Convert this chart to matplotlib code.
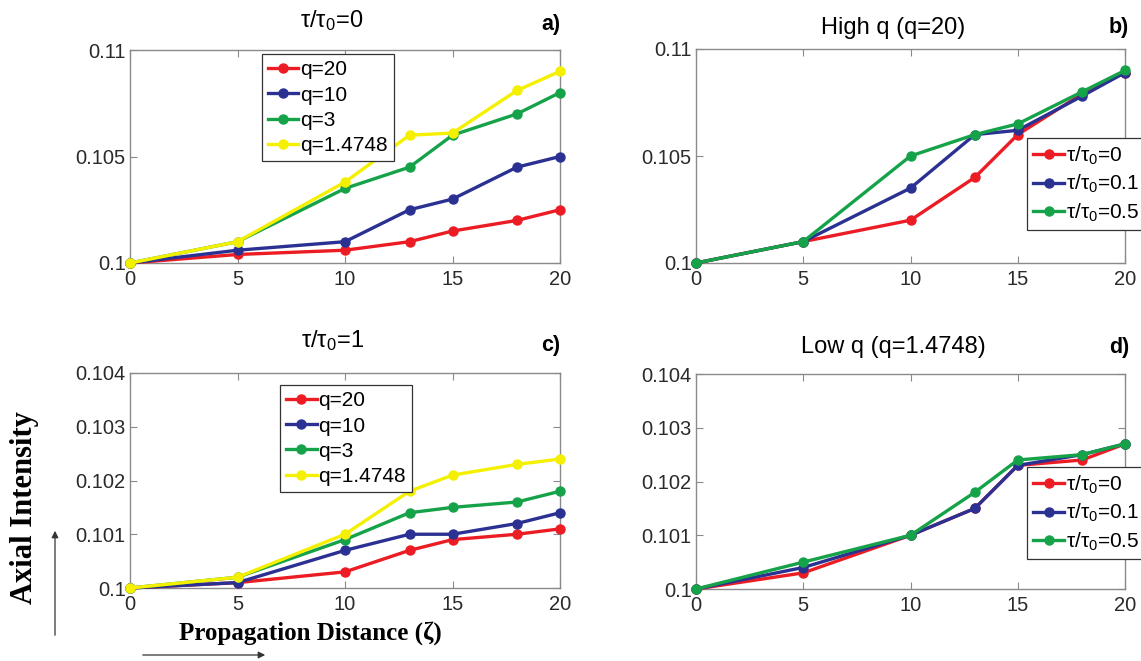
import numpy as np
import matplotlib
matplotlib.use("Agg")
import matplotlib.pyplot as plt

plt.rcParams['font.family'] = ['Liberation Sans', 'DejaVu Sans']
plt.rcParams['mathtext.fontset'] = 'custom'
plt.rcParams['mathtext.rm'] = 'Liberation Sans'
plt.rcParams['mathtext.it'] = 'Liberation Sans'

# propagation distance samples
z = [0, 5, 10, 13, 15, 18, 20]

# a) tau/tau0 = 0, different q
a_q20 = [0.1000, 0.1004, 0.1006, 0.1010, 0.1015, 0.1020, 0.1025]
a_q10 = [0.1000, 0.1006, 0.1010, 0.1025, 0.1030, 0.1045, 0.1050]
a_q3 = [0.1000, 0.1010, 0.1035, 0.1045, 0.1060, 0.1070, 0.1080]
a_q15 = [0.1000, 0.1010, 0.1038, 0.1060, 0.1061, 0.1081, 0.1090]

# b) high q (q=20), different tau/tau0
b_t0 = [0.1000, 0.1010, 0.1020, 0.1040, 0.1060, 0.1079, 0.1089]
b_t01 = [0.1000, 0.1010, 0.1035, 0.1060, 0.1062, 0.1078, 0.1089]
b_t05 = [0.1000, 0.1010, 0.1050, 0.1060, 0.1065, 0.1080, 0.1090]

# c) tau/tau0 = 1, different q
c_q20 = [0.1000, 0.1001, 0.1003, 0.1007, 0.1009, 0.1010, 0.1011]
c_q10 = [0.1000, 0.1001, 0.1007, 0.1010, 0.1010, 0.1012, 0.1014]
c_q3 = [0.1000, 0.1002, 0.1009, 0.1014, 0.1015, 0.1016, 0.1018]
c_q15 = [0.1000, 0.1002, 0.1010, 0.1018, 0.1021, 0.1023, 0.1024]

# d) low q (q=1.4748), different tau/tau0
d_t0 = [0.1000, 0.1003, 0.1010, 0.1015, 0.1023, 0.1024, 0.1027]
d_t01 = [0.1000, 0.1004, 0.1010, 0.1015, 0.1023, 0.1025, 0.1027]
d_t05 = [0.1000, 0.1005, 0.1010, 0.1018, 0.1024, 0.1025, 0.1027]

q_labels = ['q=20', 'q=10', 'q=3', 'q=1.4748']
t_labels = [r'τ/τ$_0$=0', r'τ/τ$_0$=0.1', r'τ/τ$_0$=0.5']

red = '#ec1c24'
blue = '#2b3192'
green = '#16a249'
yellow = '#f4f000'

W, H = 1141, 661
fig = plt.figure(figsize=(W / 100, H / 100), dpi=100)


def px_axes(left, top, right, bottom):
    return fig.add_axes([left / W, 1 - bottom / H, (right - left) / W, (bottom - top) / H])


def style(ax, yticks, yticklabels):
    ax.set_xlim(0, 20)
    ax.set_ylim(yticks[0], yticks[-1])
    ax.set_xticks([0, 5, 10, 15, 20])
    ax.set_yticks(yticks)
    ax.set_yticklabels(yticklabels)
    for s in ax.spines.values():
        s.set_color('#8a8a8a')
        s.set_linewidth(1.0)
    ax.tick_params(direction='in', top=True, right=True, length=5,
                   color='#8a8a8a', labelsize=14.5, labelcolor='#2a2a2a')
    ax.tick_params(axis='x', pad=5)
    ax.tick_params(axis='y', pad=3)


def draw(ax, series, colors, labels):
    for y, c, lab in zip(series, colors, labels):
        ax.plot(z, y, color=c, lw=2.4, marker='o', ms=6.5, label=lab, clip_on=False, zorder=3)


def legend(ax, x, y):
    leg = ax.legend(loc='upper left', bbox_to_anchor=(x, y), fontsize=15,
                    frameon=True, fancybox=False, framealpha=1, edgecolor='#333333',
                    handlelength=1.45, handletextpad=0.1, borderpad=0.3,
                    labelspacing=0.3, borderaxespad=0)
    leg.get_frame().set_linewidth(0.9)
    leg.set_zorder(5)
    return leg


yt1 = [0.1, 0.105, 0.11]
yl1 = ['0.1', '0.105', '0.11']
yt2 = [0.1, 0.101, 0.102, 0.103, 0.104]
yl2 = ['0.1', '0.101', '0.102', '0.103', '0.104']

axa = px_axes(130, 50, 560, 263)
draw(axa, [a_q20, a_q10, a_q3, a_q15], [red, blue, green, yellow], q_labels)
style(axa, yt1, yl1)
legend(axa, 0.307, 0.981)
axa.text(0.47, 1.14, r'τ/τ$_0$=0', transform=axa.transAxes, ha='center', va='center', fontsize=17)
axa.text(1.0, 1.12, 'a)', transform=axa.transAxes, ha='right', va='center', fontsize=15.5, fontweight='bold')

axb = px_axes(696, 49, 1125, 263)
draw(axb, [b_t0, b_t01, b_t05], [red, blue, green], t_labels)
style(axb, yt1, yl1)
legend(axb, 0.772, 0.584)
axb.text(0.46, 1.10, 'High q (q=20)', transform=axb.transAxes, ha='center', va='center', fontsize=17)
axb.text(1.01, 1.10, 'b)', transform=axb.transAxes, ha='right', va='center', fontsize=15.5, fontweight='bold')

axc = px_axes(130, 373, 560, 588)
draw(axc, [c_q20, c_q10, c_q3, c_q15], [red, blue, green, yellow], q_labels)
style(axc, yt2, yl2)
legend(axc, 0.349, 0.944)
axc.text(0.47, 1.15, r'τ/τ$_0$=1', transform=axc.transAxes, ha='center', va='center', fontsize=17)
axc.text(1.0, 1.13, 'c)', transform=axc.transAxes, ha='right', va='center', fontsize=15.5, fontweight='bold')

axd = px_axes(696, 374, 1125, 589)
draw(axd, [d_t0, d_t01, d_t05], [red, blue, green], t_labels)
style(axd, yt2, yl2)
legend(axd, 0.772, 0.567)
axd.text(0.46, 1.125, 'Low q (q=1.4748)', transform=axd.transAxes, ha='center', va='center', fontsize=17)
axd.text(1.01, 1.125, 'd)', transform=axd.transAxes, ha='right', va='center', fontsize=15.5, fontweight='bold')

# shared axis labels with arrows
serif = ['Liberation Serif', 'DejaVu Serif']
fig.text(25 / W, 1 - 508 / H, 'Axial Intensity', rotation=90, ha='center', va='center',
         fontsize=22, fontweight='bold', family=serif)
fig.text(310 / W, 1 - 633 / H, 'Propagation Distance (ζ)', ha='center', va='center',
         fontsize=18, fontweight='bold', family=serif)
fig.patches.append(matplotlib.patches.FancyArrowPatch(
    (55 / W, 1 - 638 / H), (55 / W, 1 - 528 / H), transform=fig.transFigure,
    arrowstyle='-|>', mutation_scale=10, lw=0.9, color='#333333'))
fig.patches.append(matplotlib.patches.FancyArrowPatch(
    (140 / W, 1 - 655 / H), (268 / W, 1 - 655 / H), transform=fig.transFigure,
    arrowstyle='-|>', mutation_scale=10, lw=0.9, color='#333333'))

fig.savefig('out.png', dpi=100)
